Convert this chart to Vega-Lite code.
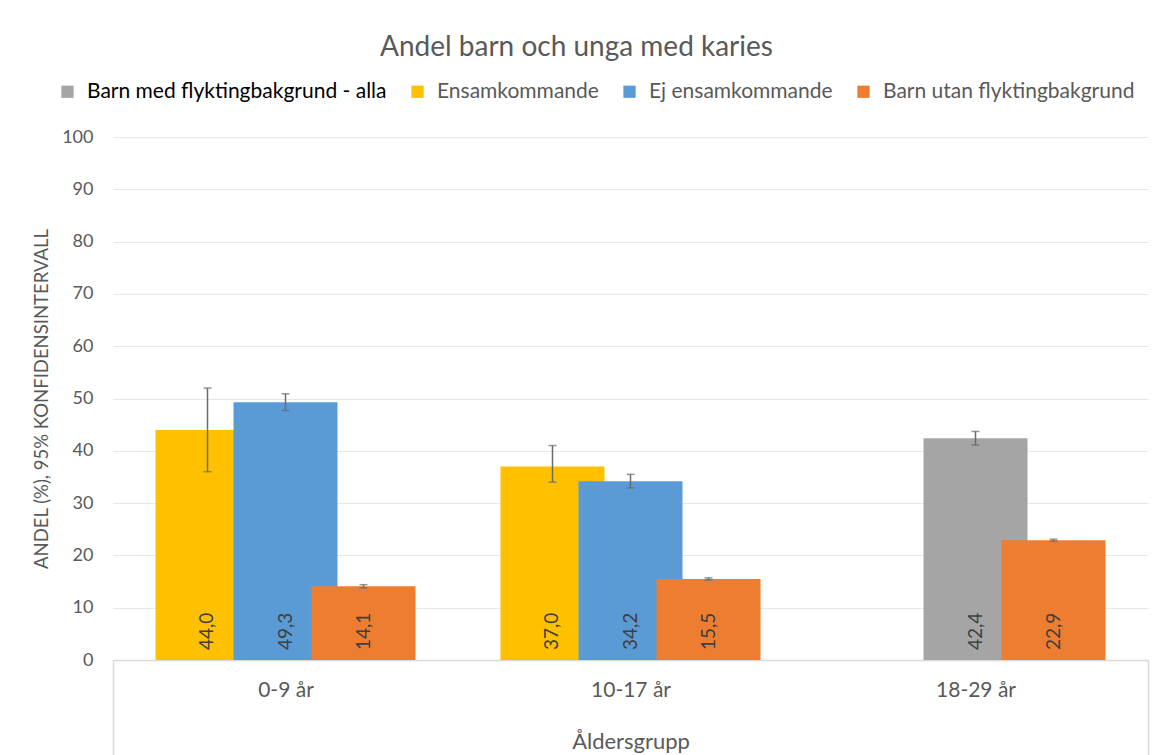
{
  "$schema": "https://vega.github.io/schema/vega-lite/v6.json",
  "width": 1035,
  "height": 523,
  "autosize": {"type": "none"},
  "padding": {"left": 113, "top": 137, "right": 4, "bottom": 95},
  "background": "white",
  "config": {
    "font": "Lato",
    "view": {"stroke": null},
    "locale": {"number": {"decimal": ",", "thousands": " ", "grouping": [3], "currency": ["", " kr"]}}
  },
  "title": {
    "text": "Andel barn och unga med karies",
    "fontSize": 28,
    "font": "Lato",
    "fontWeight": "normal",
    "color": "#595959",
    "anchor": "middle",
    "frame": "group",
    "offset": 19,
    "dx": -54
  },
  "data": {
    "values": [
      {"age": "0-9 år", "serie": "Ensamkommande", "slot": 1, "value": 44.0, "lo": 36.0, "hi": 52.0},
      {"age": "0-9 år", "serie": "Ej ensamkommande", "slot": 2, "value": 49.3, "lo": 47.7, "hi": 50.9},
      {"age": "0-9 år", "serie": "Barn utan flyktingbakgrund", "slot": 3, "value": 14.1, "lo": 13.8, "hi": 14.4},
      {"age": "10-17 år", "serie": "Ensamkommande", "slot": 1, "value": 37.0, "lo": 34.0, "hi": 41.0},
      {"age": "10-17 år", "serie": "Ej ensamkommande", "slot": 2, "value": 34.2, "lo": 32.9, "hi": 35.5},
      {"age": "10-17 år", "serie": "Barn utan flyktingbakgrund", "slot": 3, "value": 15.5, "lo": 15.3, "hi": 15.7},
      {"age": "18-29 år", "serie": "Barn med flyktingbakgrund - alla", "slot": 2, "value": 42.4, "lo": 41.1, "hi": 43.7},
      {"age": "18-29 år", "serie": "Barn utan flyktingbakgrund", "slot": 3, "value": 22.9, "lo": 22.7, "hi": 23.1}
    ]
  },
  "encoding": {
    "x": {
      "field": "age",
      "type": "nominal",
      "sort": ["0-9 år", "10-17 år", "18-29 år"],
      "scale": {"paddingInner": 0, "paddingOuter": 0},
      "axis": {
        "title": "Åldersgrupp",
        "labelAngle": 0,
        "labelFontSize": 21,
        "labelColor": "#595959",
        "titleFontSize": 22,
        "titleFontWeight": "normal",
        "titleColor": "#595959",
        "domainColor": "#d9d9d9",
        "domainWidth": 1.5,
        "tickColor": "#d9d9d9",
        "tickWidth": 1.5,
        "tickBand": "extent",
        "tickSize": 95,
        "tickOpacity": {"condition": {"test": "(datum.index > 0.1 && datum.index < 0.9) || (datum.index < 0.1 && !datum.extra)", "value": 0}, "value": 1},
        "labelPadding": -76,
        "titlePadding": -24
      }
    },
    "xOffset": {
      "field": "slot",
      "type": "ordinal",
      "scale": {"domain": [1, 2, 3], "paddingInner": 0, "paddingOuter": 0.7115}
    }
  },
  "layer": [
    {
      "mark": {"type": "bar", "width": 104},
      "encoding": {
        "y": {
          "field": "value",
          "type": "quantitative",
          "scale": {"domain": [0, 100], "nice": false},
          "axis": {
            "title": "ANDEL (%), 95% KONFIDENSINTERVALL",
            "values": [0, 10, 20, 30, 40, 50, 60, 70, 80, 90, 100],
            "domain": false,
            "ticks": false,
            "gridColor": "#e6e6e6",
            "labelFontSize": 18,
            "labelColor": "#595959",
            "labelPadding": 20,
            "titleFontSize": 18.5,
            "titleFontWeight": "normal",
            "titleColor": "#595959",
            "titlePadding": 10
          }
        },
        "color": {
          "field": "serie",
          "type": "nominal",
          "scale": {
            "domain": ["Barn med flyktingbakgrund - alla", "Ensamkommande", "Ej ensamkommande", "Barn utan flyktingbakgrund"],
            "range": ["#a5a5a5", "#ffc000", "#5b9bd5", "#ed7d31"]
          },
          "legend": {
            "title": null,
            "orient": "none",
            "direction": "horizontal",
            "legendX": -56,
            "legendY": -56,
            "symbolType": "square",
            "symbolSize": 150,
            "symbolStrokeWidth": 0,
            "labelFontSize": 21,
            "labelColor": "#595959",
            "labelOffset": 9,
            "columnPadding": 20,
            "labelLimit": 400,
            "encode": {
              "labels": {
                "update": {
                  "fill": {"signal": "datum.label === 'Barn med flyktingbakgrund - alla' ? '#000000' : '#595959'"}
                }
              }
            }
          }
        }
      }
    },
    {
      "mark": {"type": "text", "angle": 270, "align": "left", "baseline": "middle", "dx": 10, "fontSize": 19, "color": "#404040"},
      "encoding": {
        "y": {"datum": 0, "type": "quantitative"},
        "text": {"field": "value", "type": "quantitative", "format": ".1f"}
      }
    },
    {
      "mark": {"type": "rule", "color": "#6b6b6b", "strokeWidth": 1.5},
      "encoding": {
        "y": {"field": "lo", "type": "quantitative"},
        "y2": {"field": "hi"}
      }
    },
    {
      "mark": {"type": "tick", "color": "#6b6b6b", "size": 8, "thickness": 1.5},
      "encoding": {"y": {"field": "lo", "type": "quantitative"}}
    },
    {
      "mark": {"type": "tick", "color": "#6b6b6b", "size": 8, "thickness": 1.5},
      "encoding": {"y": {"field": "hi", "type": "quantitative"}}
    }
  ]
}
